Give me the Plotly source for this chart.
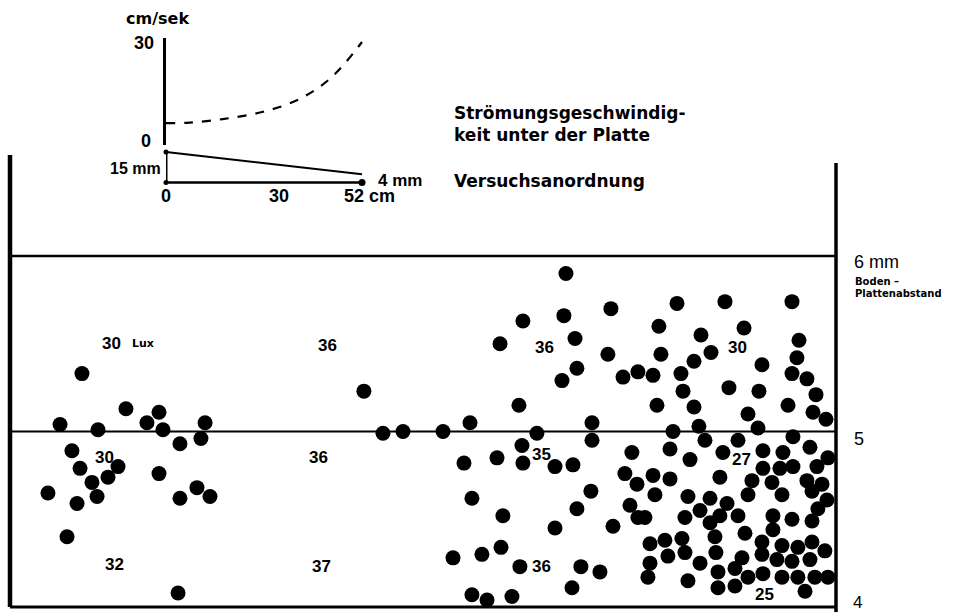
import plotly.graph_objects as go

W, H = 954, 613

# ---- data -------------------------------------------------------------
# Test arrangement: plate length (cm) and floor-to-plate gap (mm)
plate_cm = [0, 52]
gap_mm = [15, 4]

# Flow speed under the plate (cm/sek) along the plate (cm)
flow_x_cm = [0, 5.5, 15, 25.5, 35.5, 44, 52]
flow_speed = [5.9, 6.0, 7.1, 9.2, 13.1, 19.6, 30]

# Positions of the animals: distance along plate (cm), floor-plate distance (mm)
pos_cm = [
    4.53, 3.15, 5.54, 7.30, 8.62, 9.38, 9.63, 12.28, 10.70, 12.02, 3.90, 4.41,
    5.16, 6.17, 6.80, 2.39, 4.22, 5.48, 9.38, 10.70, 11.77, 12.59, 3.59, 10.58,
    22.28, 23.48, 24.74, 27.26, 27.89,
    35.00, 32.29, 34.87, 37.83, 30.85, 35.57, 37.64, 35.69, 34.75, 38.59, 39.53,
    32.04, 28.96, 36.64, 33.17, 36.64, 32.23, 28.58, 30.66, 32.29, 34.31, 35.44,
    39.15, 38.71, 39.47, 29.08, 36.57, 35.69, 39.03, 39.53, 31.03, 34.31, 37.96,
    30.91, 29.71, 32.10, 35.94, 37.14, 35.38, 29.08, 30.03, 31.60,
    41.99, 45.01, 49.23, 40.85, 46.21, 43.50, 49.67, 44.13, 40.98, 49.54, 43.06,
    47.34, 40.48, 42.24, 49.23, 50.17, 45.26, 42.37, 47.15, 50.74, 40.73, 43.06,
    48.98, 50.55, 46.46, 51.37, 47.09, 43.37, 41.74, 43.75, 45.83, 49.29, 50.36,
    41.55, 42.81, 44.88, 47.40, 48.66, 51.49, 50.80, 49.29, 48.47, 47.40, 40.48,
    41.55, 44.69, 46.71, 47.97, 50.17, 51.12, 40.60, 42.68, 44.07, 46.46, 48.60,
    50.49, 51.43, 45.14, 43.44, 50.86, 39.97, 42.49, 44.69, 45.83, 48.03, 49.23,
    50.49, 44.07, 46.27, 48.03, 44.38, 40.29, 41.23, 42.30, 47.34, 48.60, 49.60,
    50.49, 51.30, 41.42, 42.49, 44.44, 43.44, 46.08, 47.34, 48.28, 49.23, 50.36,
    40.29, 40.16, 42.68, 44.57, 45.64, 46.46, 47.40, 48.60, 49.60, 50.67, 51.49,
    44.57, 45.64, 50.05,
]
height_mm = [
    5.33, 5.04, 5.01, 5.13, 5.05, 5.11, 5.01, 5.05, 4.93, 4.96, 4.89, 4.79,
    4.71, 4.74, 4.80, 4.65, 4.59, 4.63, 4.76, 4.62, 4.68, 4.63, 4.40, 4.08,
    5.23, 4.99, 5.00, 5.00, 4.28,
    5.90, 5.63, 5.66, 5.70, 5.50, 5.53, 5.44, 5.36, 5.29, 5.31, 5.34,
    5.15, 5.05, 5.05, 4.99, 4.95, 4.92, 4.82, 4.85, 4.82, 4.80, 4.81,
    4.88, 4.76, 4.70, 4.62, 4.66, 4.56, 4.58, 4.51, 4.52, 4.45, 4.46,
    4.34, 4.30, 4.23, 4.23, 4.20, 4.11, 4.07, 4.04, 4.06,
    5.73, 5.74, 5.74, 5.60, 5.59, 5.55, 5.52, 5.45, 5.44, 5.42, 5.40,
    5.38, 5.32, 5.33, 5.33, 5.30, 5.25, 5.23, 5.23, 5.21, 5.15, 5.14,
    5.15, 5.11, 5.10, 5.07, 5.02, 5.03, 5.00, 4.95, 4.95, 4.97, 4.91,
    4.90, 4.84, 4.88, 4.89, 4.88, 4.85, 4.80, 4.80, 4.79, 4.79, 4.75,
    4.73, 4.74, 4.72, 4.71, 4.72, 4.70, 4.64, 4.63, 4.62, 4.64, 4.64,
    4.66, 4.61, 4.59, 4.55, 4.56, 4.51, 4.51, 4.52, 4.52, 4.52, 4.50,
    4.49, 4.48, 4.42, 4.44, 4.40, 4.36, 4.38, 4.39, 4.37, 4.35, 4.34,
    4.37, 4.32, 4.29, 4.31, 4.31, 4.25, 4.28, 4.30, 4.27, 4.26, 4.27,
    4.25, 4.17, 4.15, 4.20, 4.22, 4.17, 4.19, 4.17, 4.17, 4.17, 4.17,
    4.11, 4.12, 4.09,
]

# Light intensity readings (Lux) in the test chamber
lux_text = ["30", "36", "36", "30", "30", "36", "35", "27", "32", "37", "36", "25"]
lux_x = [6.42, 19.96, 33.68, 45.77, 5.98, 19.45, 33.43, 46.08, 6.61, 19.58, 33.49, 47.47]
lux_y = [5.50, 5.49, 5.48, 5.48, 4.85, 4.85, 4.87, 4.84, 4.24, 4.23, 4.23, 4.07]

# ---- layout helpers -----------------------------------------------------
def fx(px):
    return px / W


def fy(py):
    return 1 - py / H


BOLD = "DejaVu Sans"
NUM = "Liberation Sans"

fig = go.Figure()

# animals
fig.add_trace(go.Scatter(
    x=pos_cm, y=height_mm, mode="markers",
    marker=dict(size=15, color="black", line=dict(width=0)),
    cliponaxis=False, xaxis="x", yaxis="y", hoverinfo="skip",
))

# flow speed curve
fig.add_trace(go.Scatter(
    x=flow_x_cm, y=flow_speed, mode="lines",
    line=dict(color="black", width=2.2, dash="dash", shape="spline"),
    xaxis="x2", yaxis="y2", hoverinfo="skip",
))

# plate geometry: floor line, sloping plate, gap at inlet
fig.add_trace(go.Scatter(
    x=[plate_cm[0], plate_cm[1]], y=[0, 0], mode="lines",
    line=dict(color="black", width=2.5), xaxis="x2", yaxis="y3", hoverinfo="skip",
))
fig.add_trace(go.Scatter(
    x=plate_cm, y=gap_mm, mode="lines",
    line=dict(color="black", width=2), xaxis="x2", yaxis="y3", hoverinfo="skip",
))
fig.add_trace(go.Scatter(
    x=[plate_cm[0], plate_cm[0]], y=[0, gap_mm[0]], mode="lines+markers",
    line=dict(color="black", width=3), marker=dict(size=5, color="black"),
    cliponaxis=False, xaxis="x2", yaxis="y3", hoverinfo="skip",
))
fig.add_trace(go.Scatter(
    x=[plate_cm[1]], y=[0], mode="markers", marker=dict(size=7, color="black"),
    cliponaxis=False, xaxis="x2", yaxis="y3", hoverinfo="skip",
))

# frame of the test chamber
shapes = [
    dict(type="line", xref="x", yref="y", x0=0, x1=0, y0=4, y1=6.575,
         line=dict(color="black", width=4.5)),
    dict(type="line", xref="x", yref="y", x0=52, x1=52, y0=3.97, y1=6.53,
         line=dict(color="black", width=3.5)),
    dict(type="line", xref="x", yref="y", x0=0, x1=52, y0=6, y1=6,
         line=dict(color="black", width=2.5)),
    dict(type="line", xref="x", yref="y", x0=0, x1=52, y0=5, y1=5,
         line=dict(color="black", width=2)),
    dict(type="line", xref="x", yref="y", x0=0, x1=52, y0=4, y1=4,
         line=dict(color="black", width=3)),
]

ann = []


def txt(text, x, y, size, family=NUM, xanchor="center", xref="paper", yref="paper"):
    ann.append(dict(text=text, x=x, y=y, xref=xref, yref=yref, showarrow=False,
                    xanchor=xanchor, yanchor="middle",
                    font=dict(family=family, size=size, color="black")))


# Lux readings
for t, x, y in zip(lux_text, lux_x, lux_y):
    txt("<b>%s</b>" % t, x, y, 17, xref="x", yref="y")
txt("<b>Lux</b>", 8.35, 5.50, 11, family=BOLD, xref="x", yref="y")

# right-hand scale of floor-plate distance
txt("6 mm", fx(852), fy(262), 18, xanchor="left")
txt("<b>Boden –</b>", fx(853), fy(281), 10, family=BOLD, xanchor="left")
txt("<b>Plattenabstand</b>", fx(853), fy(294), 10, family=BOLD, xanchor="left")
txt("5", fx(852), fy(439), 18, xanchor="left")
txt("4", fx(851), fy(602), 17, xanchor="left")

# inset labels
txt("<b>cm/sek</b>", fx(157), fy(19), 16, family=BOLD)
txt("<b>30</b>", fx(144), fy(43), 18)
txt("<b>0</b>", fx(146), fy(141), 18)
txt("<b>15 mm</b>", fx(163), fy(168), 16, xanchor="right")
txt("<b>4 mm</b>", fx(376), fy(180), 17, xanchor="left")
txt("<b>0</b>", 0, fy(196), 18, xref="x2")
txt("<b>30</b>", 30, fy(196), 18, xref="x2")
txt("<b>52 cm</b>", 52, fy(196), 18, xref="x2", xanchor="left")
ann[-1]["xshift"] = -20

# description
txt("<b>Strömungsgeschwindig-</b>", fx(452), fy(113), 17, family=BOLD, xanchor="left")
txt("<b>keit unter der Platte</b>", fx(452), fy(135), 17, family=BOLD, xanchor="left")
txt("<b>Versuchsanordnung</b>", fx(452), fy(181), 17, family=BOLD, xanchor="left")

# main axes: x in cm (0 at px 10, 52 at px 836), y in mm (6 at py 256, 4 at py 607)
cx = (836 - 10) / 52.0
cy = (607 - 256) / 2.0
x_rng = [-0.5, 53]
y_rng = [3.97, 6.6]
x_dom = [fx(10 + x_rng[0] * cx), fx(10 + x_rng[1] * cx)]
y_dom = [fy(607 - (y_rng[0] - 4) * cy), fy(607 - (y_rng[1] - 4) * cy)]

# inset axes
ix = (362 - 166) / 52.0
x2_rng = [0, 53]
x2_dom = [fx(166), fx(166 + 53 * ix)]
vy = (143 - 42) / 30.0
y2_rng = [-0.6, 31.2]
y2_dom = [fy(143 + 0.6 * vy), fy(143 - 31.2 * vy)]
gy = (182.5 - 152) / 15.0
y3_rng = [-0.8, 15.8]
y3_dom = [fy(182.5 + 0.8 * gy), fy(182.5 - 15.8 * gy)]

hidden = dict(visible=False, showgrid=False, zeroline=False, fixedrange=True)

fig.update_layout(
    width=W, height=H,
    margin=dict(l=0, r=0, t=0, b=0),
    paper_bgcolor="white", plot_bgcolor="rgba(0,0,0,0)",
    showlegend=False,
    xaxis=dict(hidden, range=x_rng, domain=x_dom),
    yaxis=dict(hidden, range=y_rng, domain=y_dom),
    xaxis2=dict(hidden, range=x2_rng, domain=x2_dom, anchor="y2"),
    yaxis2=dict(visible=True, showgrid=False, zeroline=False, showticklabels=False,
                ticks="", showline=True, linecolor="black", linewidth=2.5,
                range=y2_rng, domain=y2_dom, anchor="x2"),
    yaxis3=dict(hidden, range=y3_rng, domain=y3_dom, anchor="x2"),
    shapes=shapes,
    annotations=ann,
)

fig.write_html("out.html")
